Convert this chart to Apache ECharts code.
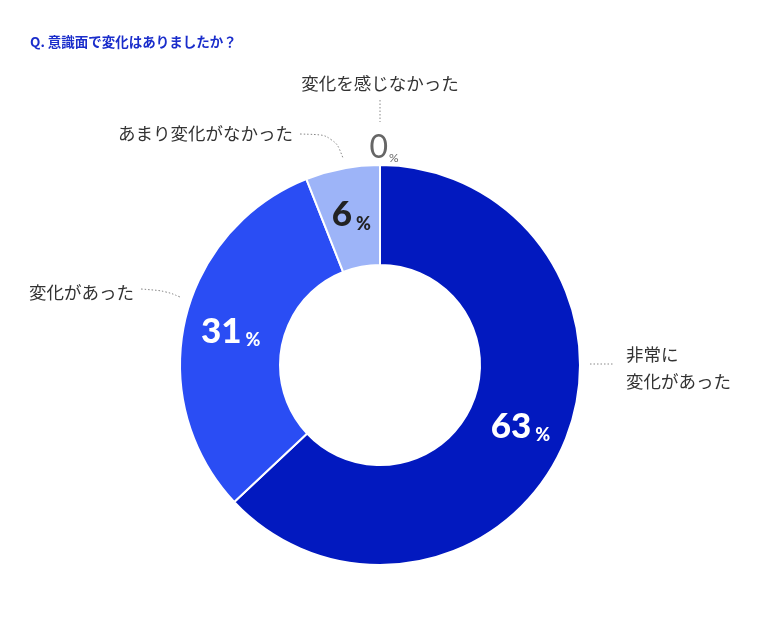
<!DOCTYPE html>
<html>
<head>
<meta charset="utf-8">
<script src="https://cdn.jsdelivr.net/npm/echarts@6/dist/echarts.min.js"></script>
<style>
  html, body { margin: 0; padding: 0; background: #fff; }
  #chart { width: 760px; height: 626px; }
</style>
</head>
<body>
<div id="chart"></div>
<script>
// 回答データ
var categories = ['非常に変化があった', '変化があった', 'あまり変化がなかった', '変化を感じなかった'];
var labelTexts = ['非常に\n変化があった', '変化があった', 'あまり変化がなかった', '変化を感じなかった'];
var percents = [63, 31, 6, 0];

var colors = ['#0219BF', '#2A4DF4', '#9DB4F8', '#9DB4F8'];
var numColors = ['#fff', '#fff', '#222', '#666'];

var CX = 380, CY = 365;

// ラベル位置（外側）
var outerLabels = [
    {x: 626, y: 368, align: 'left', line: [[590, 364], [614, 364]]},
    {x: 134, y: 292, align: 'right', line: [[141, 289], [166, 291], [180, 297]]},
    {x: 293, y: 133, align: 'right', line: [[300, 134], [334, 135], [343, 158]]},
    {x: 380, y: 83, align: 'center', line: [[380, 100], [380, 122]]}
];

var chart = echarts.init(document.getElementById('chart'));

var mainData = [], textData = [];
for (var i = 0; i < categories.length; i++) {
    var zero = i === 3;
    mainData.push({
        name: categories[i],
        value: percents[i],
        itemStyle: {color: colors[i]},
        label: {
            rich: {
                n: {
                    color: numColors[i],
                    fontFamily: 'Lato',
                    fontWeight: zero ? 'normal' : 900,
                    fontSize: zero ? 32 : 35,
                    lineHeight: 36,
                    verticalAlign: 'bottom'
                },
                p: {
                    color: numColors[i],
                    fontFamily: 'Lato',
                    fontWeight: zero ? 'normal' : 900,
                    fontSize: zero ? 12 : 18,
                    lineHeight: zero ? 19 : 25,
                    verticalAlign: 'bottom',
                    padding: [0, 0, 0, zero ? 1 : 4]
                }
            }
        }
    });
    textData.push({name: categories[i], value: percents[i]});
}

var option = {
    backgroundColor: '#fff',
    animation: false,
    title: {
        text: 'Q. 意識面で変化はありましたか？',
        left: 30,
        top: 35,
        padding: 0,
        textStyle: {
            color: '#1A2DCB',
            fontSize: 13.5,
            fontWeight: 'bold',
            fontFamily: 'Noto Sans CJK JP'
        }
    },
    series: [
        {
            // 外側ラベル用（透明）
            type: 'pie',
            center: [CX, CY],
            radius: [100, 200],
            startAngle: 90,
            silent: true,
            avoidLabelOverlap: false,
            itemStyle: {color: 'rgba(0,0,0,0)'},
            label: {
                show: true,
                position: 'outside',
                color: '#333',
                fontSize: 17.5,
                lineHeight: 27,
                fontFamily: 'Noto Sans CJK JP',
                formatter: function (params) {
                    return labelTexts[params.dataIndex];
                }
            },
            labelLine: {
                show: true,
                smooth: 0.4,
                lineStyle: {color: '#888', width: 1, type: [1.5, 2]}
            },
            labelLayout: function (params) {
                var l = outerLabels[params.dataIndex];
                return {
                    x: l.x,
                    y: l.y,
                    align: l.align,
                    verticalAlign: 'middle',
                    labelLinePoints: l.line
                };
            },
            data: textData
        },
        {
            type: 'pie',
            center: [CX, CY],
            radius: [100, 200],
            startAngle: 90,
            avoidLabelOverlap: false,
            itemStyle: {borderColor: '#fff', borderWidth: 2},
            label: {
                show: true,
                position: 'inside',
                formatter: function (params) {
                    return '{n|' + params.value + '}{p|%}';
                }
            },
            labelLine: {show: false},
            labelLayout: function (params) {
                if (params.dataIndex === 3) {
                    return {x: CX + 4, y: CY - 219, align: 'center', verticalAlign: 'middle'};
                }
            },
            emphasis: {disabled: true},
            data: mainData
        }
    ]
};
chart.setOption(option);
</script>
</body>
</html>
